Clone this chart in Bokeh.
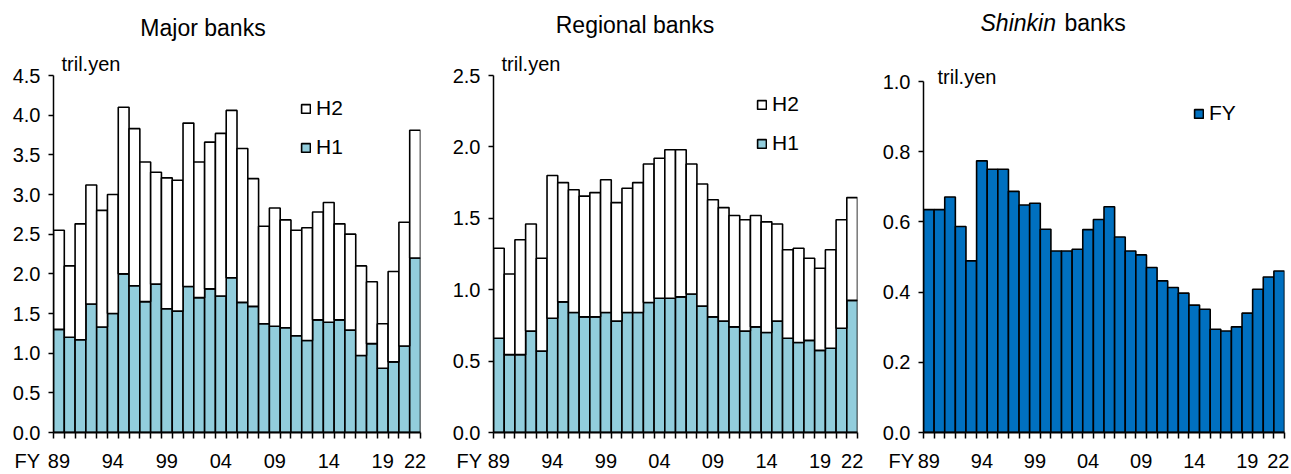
from bokeh.plotting import figure
from bokeh.layouts import row
from bokeh.models import (Range1d, FixedTicker, Legend, LegendItem,
                          ColumnDataSource, NumeralTickFormatter)
from bokeh.core.properties import value
from bokeh.embed import file_html
from bokeh.resources import INLINE

# ---------------- data ----------------
fiscal_years = ["89", "90", "91", "92", "93", "94", "95", "96", "97", "98",
                "99", "00", "01", "02", "03", "04", "05", "06", "07", "08",
                "09", "10", "11", "12", "13", "14", "15", "16", "17", "18",
                "19", "20", "21", "22"]
tick_years = ["89", "94", "99", "04", "09", "14", "19", "22"]

# Major banks (tril. yen): H1 and full fiscal year (H1 + H2)
major_h1 = [1.30, 1.20, 1.17, 1.62, 1.33, 1.50, 2.00, 1.85, 1.65, 1.87,
            1.56, 1.53, 1.84, 1.70, 1.81, 1.72, 1.95, 1.64, 1.59, 1.37,
            1.34, 1.32, 1.22, 1.16, 1.42, 1.39, 1.42, 1.29, 0.97, 1.12,
            0.81, 0.89, 1.09, 2.20]
major_fy = [2.55, 2.10, 2.63, 3.12, 2.80, 3.00, 4.10, 3.83, 3.41, 3.28,
            3.21, 3.18, 3.90, 3.41, 3.66, 3.77, 4.06, 3.58, 3.20, 2.60,
            2.83, 2.68, 2.55, 2.58, 2.78, 2.90, 2.63, 2.50, 2.10, 1.90,
            1.37, 2.03, 2.65, 3.81]

# Regional banks
regional_h1 = [0.66, 0.545, 0.545, 0.71, 0.57, 0.80, 0.915, 0.84, 0.81, 0.81,
               0.84, 0.78, 0.84, 0.84, 0.91, 0.94, 0.94, 0.95, 0.97, 0.885,
               0.81, 0.78, 0.74, 0.71, 0.74, 0.70, 0.78, 0.66, 0.63, 0.645,
               0.575, 0.59, 0.73, 0.925]
regional_fy = [1.29, 1.11, 1.35, 1.46, 1.22, 1.80, 1.75, 1.70, 1.655, 1.68,
               1.77, 1.61, 1.71, 1.75, 1.88, 1.92, 1.98, 1.98, 1.88, 1.74,
               1.63, 1.575, 1.52, 1.49, 1.52, 1.475, 1.46, 1.28, 1.29, 1.22,
               1.15, 1.28, 1.49, 1.645]

# Shinkin banks (fiscal year)
shinkin_fy = [0.635, 0.635, 0.671, 0.587, 0.489, 0.774, 0.750, 0.750, 0.687, 0.648,
              0.653, 0.579, 0.517, 0.517, 0.522, 0.578, 0.607, 0.643, 0.557, 0.517,
              0.506, 0.470, 0.432, 0.413, 0.397, 0.363, 0.351, 0.294, 0.289, 0.301,
              0.340, 0.408, 0.443, 0.460]

major_yticks = [0.0, 0.5, 1.0, 1.5, 2.0, 2.5, 3.0, 3.5, 4.0, 4.5]
regional_yticks = [0.0, 0.5, 1.0, 1.5, 2.0, 2.5]
shinkin_yticks = [0.0, 0.2, 0.4, 0.6, 0.8, 1.0]

# ---------------- styling ----------------
FONT = "Liberation Sans"
H1_COLOR = "#92CDDC"
SHINKIN_COLOR = "#0070C0"
N = len(fiscal_years)
FIG_H = 472
B_TOP = 75
B_BOTTOM = FIG_H - 432
TICK_FS = "20px"
LEGEND_FS = "21px"
TITLE_FS = "23px"
UNIT_FS = "20px"


class Panel:
    def __init__(self, page_x, width, b_left, b_right, ymax, yticks, top_px=None):
        self.page_x = page_x
        self.fl = page_x + b_left
        self.fw = width - b_left - b_right
        self.ft = B_TOP
        self.fh = FIG_H - B_TOP - B_BOTTOM
        # top tick may sit below frame top (frames in a row share top/bottom)
        if top_px is None:
            self.yend = ymax
        else:
            self.yend = ymax * self.fh / (self.ft + self.fh - top_px)
        p = figure(width=width, height=FIG_H, title=None,
                   x_range=Range1d(-0.5, N - 0.5), y_range=Range1d(0, self.yend),
                   output_backend="svg", toolbar_location=None,
                   min_border_left=b_left, min_border_right=b_right,
                   min_border_top=B_TOP, min_border_bottom=B_BOTTOM)
        p.xgrid.visible = False
        p.ygrid.visible = False
        p.outline_line_color = None
        p.background_fill_color = "white"
        p.border_fill_color = "white"

        idx = [fiscal_years.index(t) for t in tick_years]
        xa = p.xaxis[0]
        xa.ticker = FixedTicker(ticks=idx, minor_ticks=[i - 0.5 for i in range(N + 1)])
        xa.major_label_overrides = {i: t for i, t in zip(idx, tick_years)}
        xa.major_tick_out = 0
        xa.major_tick_in = 0
        xa.minor_tick_out = 6
        xa.minor_tick_in = 0
        xa.minor_tick_line_color = "black"
        xa.minor_tick_line_width = 1.5
        xa.axis_line_width = 2
        xa.axis_line_color = "black"
        xa.major_label_standoff = 15
        xa.major_label_text_font = FONT
        xa.major_label_text_font_size = TICK_FS
        xa.major_label_text_color = "black"

        ya = p.yaxis[0]
        ya.ticker = FixedTicker(ticks=yticks)
        ya.formatter = NumeralTickFormatter(format="0.0")
        ya.bounds = (0, ymax)
        ya.major_tick_out = 5
        ya.major_tick_in = 0
        ya.minor_tick_out = 0
        ya.minor_tick_in = 0
        ya.major_tick_line_width = 1.5
        ya.major_tick_line_color = "black"
        ya.axis_line_width = 1.5
        ya.axis_line_color = "black"
        ya.major_label_standoff = 8
        ya.major_label_text_font = FONT
        ya.major_label_text_font_size = TICK_FS
        ya.major_label_text_color = "black"
        self.p = p

    def data_xy(self, px, py):
        x = -0.5 + (px - self.fl) / self.fw * N
        y = (self.ft + self.fh - py) / self.fh * self.yend
        return x, y

    def text(self, txt, px, py, size, align="left", baseline="alphabetic", style="normal"):
        x, y = self.data_xy(px, py)
        self.p.text(x=[x], y=[y], text=[txt], text_font=value(FONT),
                    text_font_size=value(size), text_align=align,
                    text_baseline=baseline, text_font_style=style,
                    text_color="black", level="overlay")

    def legend(self, items, glyph_left_page, top_page, n):
        lg = Legend(items=items, location=(glyph_left_page - self.fl,
                                           (self.ft + self.fh) - (top_page + n * 24 + (n - 1) * 15)),
                    glyph_width=11, glyph_height=11, label_standoff=5, spacing=15,
                    padding=0, margin=0, border_line_color=None,
                    background_fill_alpha=0, label_text_font=FONT,
                    label_text_font_size=LEGEND_FS, label_text_color="black")
        self.p.add_layout(lg)


def stacked(panel, h1, fy):
    src = ColumnDataSource(dict(x=list(range(N)), h1=h1, fy=fy))
    r1 = panel.p.vbar(x="x", width=1.0, top="h1", bottom=0, source=src,
                      fill_color=H1_COLOR, line_color="black", line_width=1.6)
    r2 = panel.p.vbar(x="x", width=1.0, top="fy", bottom="h1", source=src,
                      fill_color="white", line_color="black", line_width=1.6)
    return r1, r2


# ---------------- panel 1: Major banks ----------------
P1 = Panel(0, 430, 53, 10, 4.5, major_yticks)
r1, r2 = stacked(P1, major_h1, major_fy)
P1.legend([LegendItem(label="H2", renderers=[r2]), LegendItem(label="H1", renderers=[r1])],
          300, 96, 2)
P1.text("Major banks", 202.5, 27, TITLE_FS, align="center")
P1.text("tril.yen", 61, 63, UNIT_FS)
P1.text("FY", 14, 460, TICK_FS, baseline="middle")

# ---------------- panel 2: Regional banks ----------------
P2 = Panel(430, 438, 63, 11, 2.5, regional_yticks)
q1, q2 = stacked(P2, regional_h1, regional_fy)
P2.legend([LegendItem(label="H2", renderers=[q2]), LegendItem(label="H1", renderers=[q1])],
          756, 92, 2)
P2.text("Regional banks", 634.5, 24, TITLE_FS, align="center")
P2.text("tril.yen", 501, 63, UNIT_FS)
P2.text("FY", 456, 460, TICK_FS, baseline="middle")

# ---------------- panel 3: Shinkin banks ----------------
P3 = Panel(868, 421, 55, 5, 1.0, shinkin_yticks, top_px=81)
src3 = ColumnDataSource(dict(x=list(range(N)), fy=shinkin_fy))
s1 = P3.p.vbar(x="x", width=1.0, top="fy", bottom=0, source=src3,
               fill_color=SHINKIN_COLOR, line_color="black", line_width=1.6)
P3.legend([LegendItem(label="FY", renderers=[s1])], 1193, 101, 1)
P3.text("Shinkin", 980, 22, TITLE_FS, style="italic")
P3.text("banks", 1064, 22, TITLE_FS)
P3.text("tril.yen", 937, 76, UNIT_FS)
P3.text("FY", 888, 460, TICK_FS, baseline="middle")

layout = row(P1.p, P2.p, P3.p)
open("out.html", "w").write(file_html(layout, INLINE))
